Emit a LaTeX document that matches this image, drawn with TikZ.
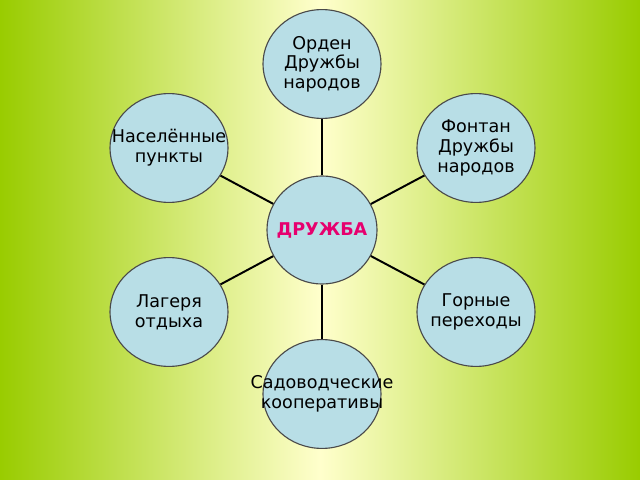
\documentclass[tikz,border=0pt]{standalone}
\usepackage{fontspec}
\setmainfont{DejaVu Sans}
\usetikzlibrary{calc,shapes.geometric}
\definecolor{leafgreen}{HTML}{99CC00}
\definecolor{paleyellow}{HTML}{FFFFCC}
\definecolor{bubble}{HTML}{B8DEE6}
\definecolor{rim}{HTML}{4A4A4A}
\definecolor{rose}{HTML}{E6006E}
\tikzset{
%Define style for the circles
topic/.style={ellipse, draw=rim, thick, fill=bubble, minimum width=2.95cm,
  minimum height=2.72cm, inner xsep=-0.8cm, inner ysep=0pt, align=center,
  font=\fontsize{12.5}{14}\selectfont},
hub/.style={topic, minimum width=2.75cm, minimum height=2.7cm,
  text=rose, font=\fontsize{12.5}{14}\selectfont\bfseries},
%Define style for the connections
link/.style={line width=1.4pt, black},
}

\begin{document}
\begin{tikzpicture}[x=0.025cm, y=-0.025cm]
    % Background
    \shade[left color=leafgreen, right color=leafgreen, middle color=paleyellow]
      (0,0) rectangle (640,480);
    \useasboundingbox (0,0) rectangle (640,480);

    % Circles
    \node[hub]   (friend)  at (322,230) {ДРУЖБА};
    \node[topic] (order)   at (322,64)  {Орден\\Дружбы\\народов};
    \node[topic] (towns)   at (169,148) {Населённые\\пункты};
    \node[topic] (fountain) at (476,148) {Фонтан\\Дружбы\\народов};
    \node[topic] (camps)   at (169,312) {Лагеря\\отдыха};
    \node[topic] (passes)  at (476,312) {Горные\\переходы};
    \node[topic] (gardens) at (322,394) {Садоводческие\\кооперативы};

    % Connections
    \foreach \n in {order,towns,fountain,camps,passes,gardens}
      \draw[link] (friend) -- (\n);
\end{tikzpicture}
\end{document}
